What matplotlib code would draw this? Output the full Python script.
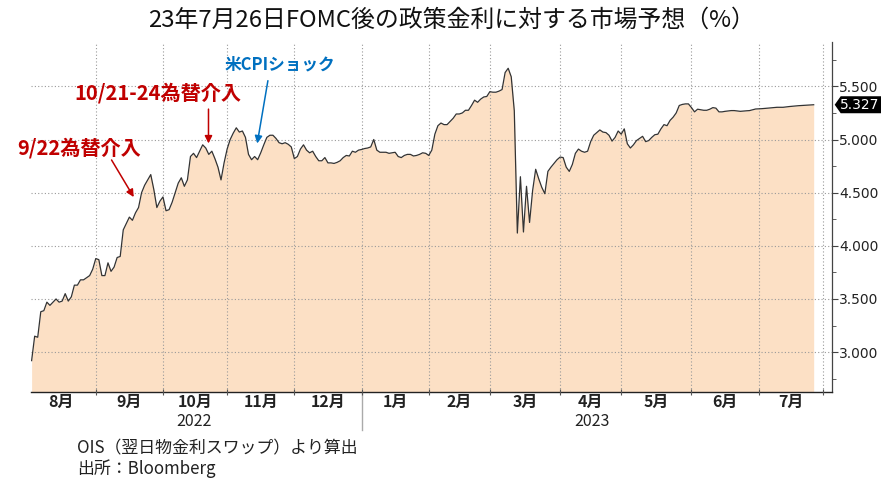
import numpy as np
import pandas as pd
import matplotlib
matplotlib.use('Agg')
import matplotlib.pyplot as plt
from matplotlib.patches import Polygon
from matplotlib.ticker import MultipleLocator, FormatStrFormatter, FixedLocator, NullFormatter

plt.rcParams['font.family'] = ['Noto Sans CJK JP', 'DejaVu Sans']

# market implied policy rate (OIS), one value per business day
aug22 = [2.92, 3.15, 3.14, 3.38, 3.39, 3.47, 3.44, 3.47, 3.50, 3.47, 3.48, 3.55, 3.48, 3.52,
         3.63, 3.63, 3.68, 3.68, 3.70, 3.72, 3.78]
sep22 = [3.88, 3.87, 3.72, 3.72, 3.84, 3.76, 3.80, 3.89, 3.90, 4.15, 4.21, 4.27, 4.24, 4.31,
         4.36, 4.50, 4.57, 4.62, 4.67, 4.53, 4.36, 4.42]
oct22 = [4.46, 4.33, 4.34, 4.41, 4.50, 4.59, 4.64, 4.56, 4.62, 4.84, 4.87, 4.83, 4.89, 4.95,
         4.92, 4.86, 4.89, 4.82, 4.74, 4.62, 4.78]
nov22 = [4.91, 5.00, 5.06, 5.11, 5.07, 5.08, 5.02, 4.86, 4.81, 4.84, 4.81, 4.875, 4.95, 5.02,
         5.04, 5.04, 5.01, 4.97, 4.96, 4.97, 4.955, 4.93]
dec22 = [4.82, 4.84, 4.91, 4.95, 4.90, 4.875, 4.89, 4.84, 4.80, 4.80, 4.83, 4.78, 4.78, 4.775,
         4.785, 4.80, 4.83, 4.85, 4.845, 4.89, 4.88, 4.90]
jan23 = [4.906, 4.915, 4.92, 4.93, 5.00, 4.90, 4.88, 4.88, 4.88, 4.87, 4.875, 4.88, 4.84, 4.83,
         4.85, 4.86, 4.86, 4.845, 4.85, 4.86, 4.875, 4.87]
feb23 = [4.85, 4.90, 5.05, 5.13, 5.155, 5.14, 5.14, 5.17, 5.20, 5.24, 5.24, 5.25, 5.275, 5.275,
         5.32, 5.37, 5.35, 5.38, 5.40, 5.405]
mar23 = [5.45, 5.445, 5.445, 5.455, 5.47, 5.63, 5.67, 5.59, 5.27, 4.12, 4.65, 4.13, 4.56, 4.22,
         4.52, 4.72, 4.63, 4.55, 4.49, 4.70, 4.74, 4.775, 4.81]
apr23 = [4.835, 4.83, 4.74, 4.70, 4.765, 4.87, 4.91, 4.89, 4.88, 4.89, 4.98, 5.04, 5.065, 5.09,
         5.07, 5.065, 5.04, 4.985, 5.02, 5.08]
may23 = [5.05, 5.10, 4.96, 4.92, 4.95, 4.99, 5.01, 5.03, 4.98, 4.99, 5.02, 5.045, 5.05, 5.10,
         5.14, 5.13, 5.18, 5.21, 5.25, 5.32, 5.33, 5.335, 5.335]
jun23 = [5.30, 5.26, 5.285, 5.28, 5.275, 5.275, 5.285, 5.30, 5.295, 5.26, 5.26, 5.265, 5.268,
         5.272, 5.272, 5.268, 5.265, 5.268, 5.27, 5.272, 5.28, 5.287]
jul23 = [5.288, 5.29, 5.292, 5.295, 5.298, 5.30, 5.303, 5.303, 5.303, 5.307, 5.31, 5.313, 5.316,
         5.318, 5.32, 5.323, 5.325, 5.326, 5.327]

chunks = [('2022-08-03', '2022-08-31', aug22), ('2022-09-01', '2022-09-30', sep22),
          ('2022-10-01', '2022-10-31', oct22), ('2022-11-01', '2022-11-30', nov22),
          ('2022-12-01', '2022-12-31', dec22), ('2023-01-01', '2023-01-31', jan23),
          ('2023-02-01', '2023-02-28', feb23), ('2023-03-01', '2023-03-31', mar23),
          ('2023-04-01', '2023-04-30', apr23), ('2023-05-01', '2023-05-31', may23),
          ('2023-06-01', '2023-06-30', jun23), ('2023-07-01', '2023-07-27', jul23)]

month_labels = ['8月', '9月', '10月', '11月', '12月', '1月', '2月', '3月', '4月', '5月', '6月', '7月']
year_labels = ['2022', '2023']

dates, vals = [], []
for start, end, v in chunks:
    d = pd.bdate_range(start, end)
    assert len(d) == len(v), (start, len(d), len(v))
    dates.extend(d)
    vals.extend(v)
vals = np.array(vals)

# x axis runs on business days
cal = pd.bdate_range('2022-08-01', '2023-08-31')
x = cal.get_indexer(pd.DatetimeIndex(dates))
mstarts = cal.get_indexer(pd.date_range('2022-08-01', '2023-08-01', freq='BMS'))
mmid = (mstarts[:-1] + mstarts[1:]) / 2.0

ymin, ymax = 2.625, 5.92

fig = plt.figure(figsize=(8.81, 4.92), dpi=100)
ax = fig.add_axes([31/881, 1-392/492, (831.7-31)/881, (392-41.7)/492])

ax.fill_between(x, ymin, vals, color='#FCE0C5', lw=0, zorder=1)
ax.plot(x, vals, color='#333333', lw=0.9, zorder=3)

ax.set_xlim(1.8, 263.9)
ax.set_ylim(ymin, ymax)

# grid
ax.set_axisbelow(False)
ax.xaxis.set_major_locator(FixedLocator(mstarts[1:]))
ax.xaxis.set_major_formatter(NullFormatter())
ax.xaxis.set_minor_locator(FixedLocator(mmid))
ax.set_xticklabels(month_labels, minor=True)
ax.yaxis.set_major_locator(MultipleLocator(0.5))
ax.yaxis.set_minor_locator(MultipleLocator(0.25))
ax.yaxis.set_major_formatter(FormatStrFormatter('%.3f'))
ax.grid(True, which='major', ls=(0, (1, 2)), color='#9a9a9a', lw=0.8)

ax.yaxis.tick_right()
ax.tick_params(axis='y', which='major', direction='out', length=4, color='#444444',
               labelsize=10, pad=1.5, labelcolor='#222222', labelfontfamily='DejaVu Sans')
ax.tick_params(axis='y', which='minor', direction='out', length=3, color='#444444')
ax.tick_params(axis='x', which='major', direction='inout', length=5, color='#555555')
ax.tick_params(axis='x', which='minor', length=0, labelsize=11.5, pad=1.5, labelcolor='#222222')
for lab in ax.get_xticklabels(minor=True):
    lab.set_fontweight('bold')

for s in ['left', 'top']:
    ax.spines[s].set_visible(False)
ax.spines['right'].set_color('#444444')
ax.spines['right'].set_linewidth(0.9)
ax.spines['bottom'].set_color('#222222')
ax.spines['bottom'].set_linewidth(1.0)

# years under months
xtr = ax.get_xaxis_transform()
ax.text((mstarts[0] + mstarts[5]) / 2.0, -0.083, year_labels[0], transform=xtr,
        ha='center', va='center', fontsize=11.5, color='#222222')
ax.text((mstarts[5] + mstarts[12]) / 2.0, -0.083, year_labels[1], transform=xtr,
        ha='center', va='center', fontsize=11.5, color='#222222')
ax.plot([mstarts[5], mstarts[5]], [0, -0.108], transform=xtr, clip_on=False,
        color='#aaaaaa', lw=1)

# events
red = '#C00000'
blue = '#0070C0'
ax.text(17.5, 4.924, '9/22為替介入', color=red, fontsize=14.5, fontweight='bold',
        ha='center', va='center')
ax.annotate('', xy=(35.9, 4.436), xytext=(27.7, 4.83),
            arrowprops=dict(arrowstyle='-|>', color=red, lw=1.1, mutation_scale=11))
ax.text(43.4, 5.438, '10/21-24為替介入', color=red, fontsize=14.5, fontweight='bold',
        ha='center', va='center')
ax.annotate('', xy=(59.9, 4.937), xytext=(59.9, 5.312),
            arrowprops=dict(arrowstyle='-|>', color=red, lw=1.1, mutation_scale=11))
ax.text(83.3, 5.704, '米CPIショック', color=blue, fontsize=12, fontweight='bold',
        ha='center', va='center')
ax.annotate('', xy=(75.7, 4.937), xytext=(79.5, 5.579),
            arrowprops=dict(arrowstyle='-|>', color=blue, lw=1.1, mutation_scale=11))

# last value tag
last = vals[-1]
yp = ax.transData.transform((0, last))[1]
xr = ax.get_position().x1 * 881
tag = Polygon([[xr + 3, yp], [xr + 9, yp + 8.5], [881, yp + 8.5], [881, yp - 8.5],
               [xr + 9, yp - 8.5]], closed=True, transform=None, fc='black', ec='none')
fig.patches.append(tag)
fig.text(860 / 881, yp / 492, '%.3f' % last, color='white', fontsize=10,
         ha='center', va='center', family='DejaVu Sans')

fig.text(452/881, 1-20/492, '23年7月26日FOMC後の政策金利に対する市場予想（%）',
         ha='center', va='center', fontsize=17.2, color='#111111')
fig.text(77/881, 1-448/492, 'OIS（翌日物金利スワップ）より算出', ha='left', va='center',
         fontsize=12.2, color='#222222')
fig.text(77/881, 1-469/492, '出所：Bloomberg', ha='left', va='center',
         fontsize=12.2, color='#222222')

fig.savefig('out.png', dpi=100)
